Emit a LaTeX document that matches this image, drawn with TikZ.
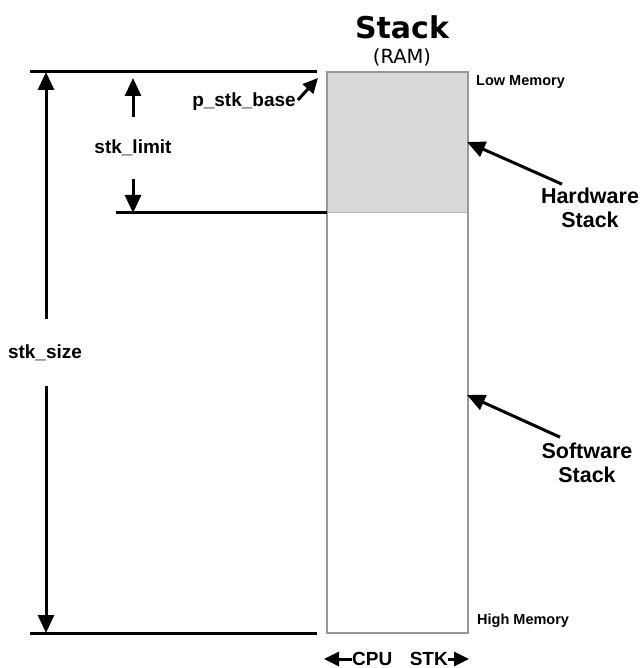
\documentclass[tikz,border=0pt]{standalone}
\usepackage{fontspec}
\setmainfont{Liberation Sans}
\newfontfamily\dejavu{DejaVu Sans}
\usetikzlibrary{arrows.meta,calc}
\definecolor{boxgray}{HTML}{999999}
\definecolor{hwfill}{HTML}{D9D9D9}
\tikzset{
  x=1pt, y=-1pt,
  blk/.style={line width=3pt},
  arr/.style={line width=3pt, -{Triangle[length=18pt,width=16pt]}},
  sarr/.style={line width=3pt, -{Triangle[length=15pt,width=14pt]}},
  lbl/.style={font=\bfseries\fontsize{19}{21}\selectfont, inner sep=0pt},
  biglbl/.style={font=\bfseries\fontsize{21.5}{23.5}\selectfont, inner sep=0pt, align=center},
  memlbl/.style={font=\bfseries\fontsize{14.5}{16}\selectfont, inner sep=0pt, anchor=west},
}
\begin{document}
\begin{tikzpicture}
\useasboundingbox (0,0) rectangle (642,668);
% stack box
\node[fill=hwfill, draw=boxgray!70, line width=0.8pt, outer sep=0pt, minimum width=141pt, minimum height=140pt, inner sep=0pt] (hw) at (397.5,142) {};
\node[draw=boxgray, line width=2.6pt, minimum width=141pt, minimum height=561pt, inner sep=0pt] (stk) at (397.5,352.5) {};
% title
\node[font=\dejavu\bfseries\fontsize{30}{32}\selectfont, inner sep=0pt] (title) at (402,27) {Stack};
\node[font=\dejavu\fontsize{19.5}{21}\selectfont, inner sep=0pt] (ram) at (402,57) {(RAM)};
% memory labels
\node[memlbl] (low) at (476,82) {Low Memory};
\node[memlbl] (high) at (477,621) {High Memory};
% horizontal lines
\coordinate (topL) at (30,72);
\coordinate (topR) at (317,72);
\coordinate (botL) at (30,633);
\coordinate (botR) at (317,633);
\coordinate (limL) at (116,212);
\draw[blk] (topL) -- (topR);
\draw[blk] (botL) -- (botR);
\draw[blk] (limL) -- (hw.south west);
% stk_size
\node[lbl] (size) at (45,353) {stk\_size};
\coordinate (sizeUp) at (46,319);
\coordinate (sizeDn) at (46,386);
\draw[arr] (sizeUp) -- (46,72);
\draw[arr] (sizeDn) -- (46,633);
% stk_limit
\node[lbl] (limit) at (133,148) {stk\_limit};
\draw[arr] ($(limit.north)+(0,-23)$) -- (133,78);
\draw[arr] ($(limit.south)+(0,23)$) -- (133,213);
% p_stk_base
\node[lbl] (base) at (244,102) {p\_stk\_base};
\draw[sarr] ($(base.north east)+(2,7)$) -- (318,78);
% hardware / software
\node[biglbl] (hwl) at (590,208) {Hardware\\Stack};
\node[biglbl] (swl) at (587,463) {Software\\Stack};
\draw[arr] ($(hwl.north)+(-28,-4)$) -- (467,142);
\draw[arr] ($(swl.north)+(-27,-6)$) -- (467,395);
% CPU STK
\node[font=\bfseries\fontsize{19}{21}\selectfont, inner sep=0pt, anchor=west] (cpu) at (352,659) {CPU};
\node[font=\bfseries\fontsize{19}{21}\selectfont, inner sep=0pt, anchor=east] (stkl) at (448,659) {STK};
\draw[sarr] (cpu.west) -- (324,659);
\draw[sarr] (stkl.east) -- (469,659);
\end{tikzpicture}
\end{document}
